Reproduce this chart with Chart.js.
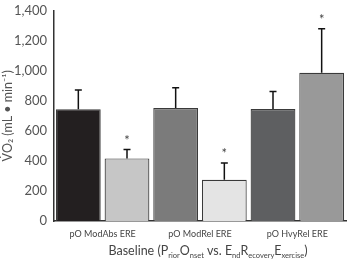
<!DOCTYPE html>
<html><head><meta charset="utf-8">
<script src="https://cdn.jsdelivr.net/npm/chart.js@4"></script>
<style>html,body{margin:0;padding:0;background:#fff}#wrap{width:351px;height:262px}</style>
</head><body><div id="wrap"><canvas id="c" width="351" height="262"></canvas></div>
<script>
const categories = ["pO ModAbs ERE", "pO ModRel ERE", "pO HvyRel ERE"];
const baselineValues = [745, 752, 746];
const baselineSD = [128, 135, 117];
const ereValues = [417, 275, 987];
const ereSD = [60, 112, 293];
const ereSignificant = [true, true, true];
const baselineColors = ["#231f20", "#7b7b7b", "#5e5f61"];
const ereColors = ["#c6c6c6", "#e4e4e4", "#999999"];
const yTicks = [0, 200, 400, 600, 800, 1000, 1200, 1400];

const FONT = "Lato, 'Open Sans', sans-serif";

const errorPlugin = {
  id: 'errbars',
  afterDatasetsDraw(chart) {
    const ctx = chart.ctx;
    const y = chart.scales.y;
    const sds = [baselineSD, ereSD];
    chart.data.datasets.forEach((ds, di) => {
      const meta = chart.getDatasetMeta(di);
      meta.data.forEach((bar, i) => {
        const top = y.getPixelForValue(ds.data[i] + sds[di][i]);
        ctx.save();
        ctx.strokeStyle = '#111';
        ctx.lineWidth = 1.5;
        ctx.beginPath();
        ctx.moveTo(bar.x, bar.y);
        ctx.lineTo(bar.x, top);
        ctx.moveTo(bar.x - 3.5, top);
        ctx.lineTo(bar.x + 3.5, top);
        ctx.stroke();
        if (di === 1 && ereSignificant[i]) {
          ctx.fillStyle = '#444';
          ctx.font = "13px " + FONT;
          ctx.textAlign = 'center';
          ctx.textBaseline = 'middle';
          ctx.fillText('*', bar.x, top - 9);
        }
        ctx.restore();
      });
    });
    // x-axis title with subscripts
    const parts = [["Baseline (P",0],["rior",1],["O",0],["nset",1],[" vs. E",0],["nd",1],["R",0],["ecovery",1],["E",0],["xercise",1],[")",0]];
    ctx.save();
    ctx.fillStyle = '#444';
    ctx.textBaseline = 'alphabetic';
    let total = 0;
    parts.forEach(p => { ctx.font = (p[1] ? "7.5px " : "12.5px ") + FONT; total += ctx.measureText(p[0]).width; });
    let x = 208 - total / 2;
    const base = 255;
    parts.forEach(p => {
      ctx.font = (p[1] ? "7.5px " : "12.5px ") + FONT;
      ctx.textAlign = 'left';
      ctx.fillText(p[0], x, base + (p[1] ? 2.5 : 0));
      x += ctx.measureText(p[0]).width;
    });
    ctx.restore();
  }
};

new Chart(document.getElementById('c'), {
  type: 'bar',
  data: {
    labels: categories,
    datasets: [
      { label: 'Baseline', data: baselineValues, backgroundColor: baselineColors, borderColor: '#3a3a3a', borderWidth: 1.2, barPercentage: 0.92, categoryPercentage: 1.0 },
      { label: 'ERE', data: ereValues, backgroundColor: ereColors, borderColor: '#3a3a3a', borderWidth: 1.2, barPercentage: 0.92, categoryPercentage: 1.0 }
    ]
  },
  options: {
    responsive: false,
    animation: false,
    devicePixelRatio: 1,
    layout: { padding: { top: 10, right: 5, left: 0, bottom: 0 } },
    plugins: { legend: { display: false }, tooltip: { enabled: false } },
    scales: {
      x: {
        grid: { display: false, drawTicks: false },
        border: { color: '#333', width: 1.5 },
        ticks: { color: '#444', font: { family: FONT, size: 9 }, padding: 8 },
        afterFit(s) { s.height = 41; }
      },
      y: {
        min: 0, max: 1400,
        afterBuildTicks(s) { s.ticks = yTicks.map(v => ({ value: v })); },
        grid: { display: false, drawOnChartArea: false, drawTicks: true, tickLength: 4, tickColor: '#333', tickWidth: 1.5 },
        border: { color: '#333', width: 1.5 },
        ticks: { color: '#555', font: { family: FONT, size: 13 }, padding: 3,
          callback: v => v.toLocaleString('en-US') },
        title: { display: true, text: 'V̇O₂ (mL • min⁻¹)', color: '#555', font: { family: FONT, size: 12.5 }, padding: { top: 0, bottom: 2 } },
        afterFit(s) { s.width = 54; }
      }
    }
  },
  plugins: [errorPlugin]
});
</script>
</body></html>
